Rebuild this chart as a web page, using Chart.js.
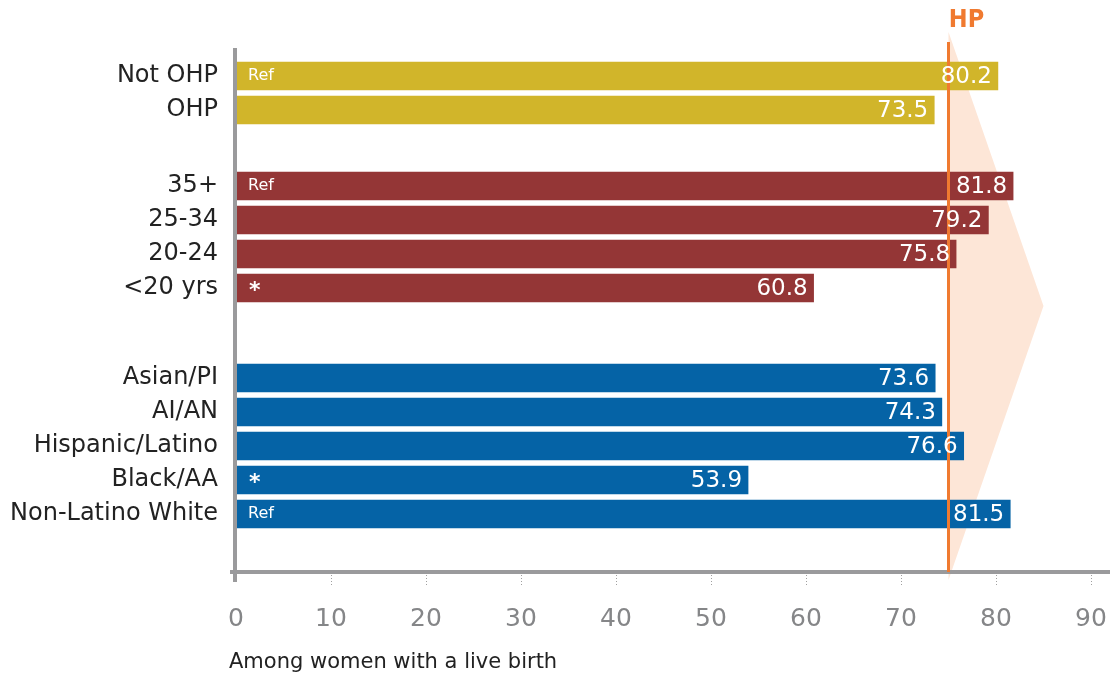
<!DOCTYPE html>
<html>
<head>
<meta charset="utf-8">
<title>Among women with a live birth</title>
<script src="https://cdn.jsdelivr.net/npm/chart.js@4"></script>
<style>
  html, body { margin: 0; padding: 0; background: #ffffff; }
  #wrap { width: 1114px; height: 677px; position: relative; }
</style>
</head>
<body>
<div id="wrap"><canvas id="chart" width="1114" height="677"></canvas></div>
<script>
// Rows, top to bottom
const categories = ['Not OHP', 'OHP', '35+', '25-34', '20-24', '<20 yrs',
  'Asian/PI', 'AI/AN', 'Hispanic/Latino', 'Black/AA', 'Non-Latino White'];
// Percent of women with a live birth
const values = [80.2, 73.5, 81.8, 79.2, 75.8, 60.8, 73.6, 74.3, 76.6, 53.9, 81.5];
// Which block each row belongs to (0 = OHP status, 1 = age, 2 = race/ethnicity)
const groups = [0, 0, 1, 1, 1, 1, 2, 2, 2, 2, 2];
// Reference group / significance markers shown at the start of a bar
const notes = ['Ref', '', 'Ref', '', '', '*', '', '', '', '*', 'Ref'];
// Healthy People target and the tip of the shaded arrow beyond it
const hpTarget = 75;
const hpArrowTip = 85;
const xTickValues = [0, 10, 20, 30, 40, 50, 60, 70, 80, 90];

// Styling / layout
const groupColors = ['#D1B52A', '#943636', '#0563A6'];
const extraGap = [0, 1.235, 1.647];   // extra blank space (in rows) before each block
const FONT = '"DejaVu Sans", "Open Sans", sans-serif';

// Row positions on the vertical linear scale
const rowPos = [];
(function () {
  let p = -1, prevGroup = -1;
  groups.forEach((g) => {
    p += 1;
    if (g !== prevGroup) { p += extraGap[g]; prevGroup = g; }
    rowPos.push(p);
  });
})();

const barData = values.map((v, i) => ({ x: v, y: rowPos[i] }));
const barColors = groups.map(g => groupColors[g]);

// Shaded target arrow, behind the bars
const hpArrowPlugin = {
  id: 'hpArrow',
  beforeDatasetsDraw(chart) {
    const { ctx, chartArea, scales: { x } } = chart;
    const x0 = x.getPixelForValue(hpTarget);
    const x1 = x.getPixelForValue(hpArrowTip);
    const top = chartArea.top - 16;
    const bottom = chartArea.bottom + 8;
    ctx.save();
    ctx.fillStyle = '#FDE6D7';
    ctx.beginPath();
    ctx.moveTo(x0, top);
    ctx.lineTo(x1, (top + bottom) / 2);
    ctx.lineTo(x0, bottom);
    ctx.closePath();
    ctx.fill();
    ctx.restore();
  }
};

// Axes, target line, labels in bars
const overlayPlugin = {
  id: 'overlay',
  afterDatasetsDraw(chart) {
    const { ctx, chartArea, scales: { x } } = chart;
    ctx.save();

    // axis lines
    ctx.strokeStyle = '#9A9A9C';
    ctx.lineWidth = 4;
    ctx.beginPath();
    ctx.moveTo(chartArea.left - 1, chartArea.top);
    ctx.lineTo(chartArea.left - 1, chartArea.bottom + 10);
    ctx.stroke();
    ctx.beginPath();
    ctx.moveTo(chartArea.left - 6, chartArea.bottom);
    ctx.lineTo(chartArea.right, chartArea.bottom);
    ctx.stroke();

    // dotted tick marks
    ctx.strokeStyle = '#A0A0A0';
    ctx.lineWidth = 1;
    ctx.setLineDash([1, 2]);
    xTickValues.forEach(v => {
      if (v === 0) return;
      const px = Math.round(x.getPixelForValue(v)) + 0.5;
      ctx.beginPath();
      ctx.moveTo(px, chartArea.bottom + 3);
      ctx.lineTo(px, chartArea.bottom + 13);
      ctx.stroke();
    });
    ctx.setLineDash([]);

    // HP target line
    const hx = x.getPixelForValue(hpTarget);
    ctx.strokeStyle = '#F07A30';
    ctx.lineWidth = 3;
    ctx.beginPath();
    ctx.moveTo(hx, chartArea.top - 6);
    ctx.lineTo(hx, chartArea.bottom);
    ctx.stroke();

    ctx.fillStyle = '#F07A30';
    ctx.font = 'bold 25px "Liberation Sans Narrow", "DejaVu Sans Condensed", ' + FONT;
    ctx.textAlign = 'center';
    ctx.textBaseline = 'middle';
    ctx.fillText('HP', hx + 18, 20);

    // value labels and notes inside the bars
    const meta = chart.getDatasetMeta(0);
    meta.data.forEach((bar, i) => {
      ctx.fillStyle = '#FFFFFF';
      ctx.textBaseline = 'middle';
      ctx.textAlign = 'right';
      ctx.font = '23px ' + FONT;
      ctx.fillText(values[i].toFixed(1), bar.x - 6, bar.y + 1);
      if (notes[i] === 'Ref') {
        ctx.textAlign = 'left';
        ctx.font = '16px ' + FONT;
        ctx.fillText('Ref', chartArea.left + 12, bar.y);
      } else if (notes[i] === '*') {
        ctx.textAlign = 'left';
        ctx.font = 'bold 22px ' + FONT;
        ctx.fillText('*', chartArea.left + 13, bar.y + 3);
      }
    });

    // axis caption
    ctx.fillStyle = '#222222';
    ctx.textAlign = 'left';
    ctx.textBaseline = 'middle';
    ctx.font = '21px ' + FONT;
    ctx.fillText('Among women with a live birth', 229, 663);
    ctx.restore();
  }
};

new Chart(document.getElementById('chart'), {
  type: 'bar',
  data: {
    datasets: [{
      data: barData,
      backgroundColor: barColors,
      borderWidth: 0,
      barThickness: 28
    }]
  },
  options: {
    indexAxis: 'y',
    responsive: false,
    animation: false,
    events: [],
    layout: { padding: { top: 48, right: 4, left: 0, bottom: 0 } },
    plugins: { legend: { display: false }, tooltip: { enabled: false } },
    scales: {
      x: {
        type: 'linear',
        min: 0,
        max: 92,
        grid: { display: false, drawTicks: false },
        border: { display: false },
        afterBuildTicks(scale) { scale.ticks = xTickValues.map(v => ({ value: v })); },
        afterFit(scale) {
          scale.height = 105;
          scale.paddingLeft = 0;
          scale.paddingRight = 0;
        },
        ticks: {
          autoSkip: false,
          maxRotation: 0,
          padding: 32,
          color: '#858688',
          font: { family: FONT, size: 25 }
        }
      },
      y: {
        type: 'linear',
        reverse: true,
        offset: false,
        min: -0.8235,
        max: 14.588,
        grid: { display: false, drawTicks: false },
        border: { display: false },
        afterBuildTicks(scale) { scale.ticks = rowPos.map(v => ({ value: v })); },
        afterFit(scale) {
          scale.width = 236;
          scale.paddingTop = 0;
          scale.paddingBottom = 0;
        },
        ticks: {
          autoSkip: false,
          padding: 18,
          color: '#222222',
          font: { family: FONT, size: 24 },
          callback(value) {
            const i = rowPos.findIndex(p => Math.abs(p - value) < 1e-6);
            return i >= 0 ? categories[i] : '';
          }
        }
      }
    }
  },
  plugins: [hpArrowPlugin, overlayPlugin]
});
</script>
</body>
</html>
